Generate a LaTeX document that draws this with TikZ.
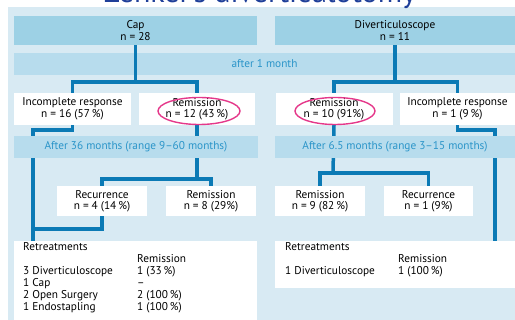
\documentclass[tikz,border=0pt]{standalone}
\usepackage{fontspec}
\setmainfont{PT Sans}
\usetikzlibrary{positioning}
\definecolor{panelbg}{HTML}{D8EAF3}
\definecolor{headbg}{HTML}{9DD1E5}
\definecolor{bandbg}{HTML}{B7DCED}
\definecolor{bandtext}{HTML}{2B95C9}
\definecolor{connblue}{HTML}{0B7AB5}
\definecolor{hilite}{HTML}{E5388A}
\definecolor{titleblue}{HTML}{1F3F99}
\tikzset{
  headbox/.style={fill=headbg, minimum height=29pt, align=center, inner sep=0pt},
  band/.style={fill=bandbg, minimum height=22pt, text=bandtext, inner sep=0pt},
  resbox/.style={fill=white, align=center, inner sep=0pt},
  conn/.style={draw=connblue, line width=3.5pt, line join=miter},
  ring/.style={draw=hilite, line width=1.4pt},
}
\begin{document}
\begin{tikzpicture}[x=1pt, y=-1pt, font=\fontsize{11.3}{11.5}\selectfont]
\useasboundingbox (0,0) rectangle (515,320);
\clip (0,0) rectangle (515,320);
\fill[panelbg] (8,7) rectangle (525,330);
\node[text=titleblue, anchor=base, inner sep=0pt] (title) at (260,3) {\fontsize{30}{32}\selectfont Zenker's diverticulotomy};
% groups
\node[headbox, minimum width=243pt] (capbox) at (135.5,30.5) {Cap\\n = 28};
\node[headbox, minimum width=240pt] (divbox) at (395,30.5) {Diverticuloscope\\n = 11};
\node[band, minimum width=501pt] (band1) at (264.5,64) {after 1 month};
% results after 1 month
\node[resbox, minimum width=117pt, minimum height=32pt] (incL) at (72.5,109) {Incomplete response\\n = 16 (57\,\%)};
\node[resbox, minimum width=116pt, minimum height=32pt] (remL) at (197,109) {Remission\\n = 12 (43\,\%)};
\node[resbox, minimum width=117pt, minimum height=32pt] (remR) at (334,109) {Remission\\n = 10 (91\%)};
\node[resbox, minimum width=115pt, minimum height=32pt] (incR) at (457.5,109) {Incomplete response\\n = 1 (9\,\%)};
% results at follow-up
\node[resbox, minimum width=90pt, minimum height=30pt] (recL) at (102,201) {Recurrence\\n = 4 (14\,\%)};
\node[resbox, minimum width=90pt, minimum height=30pt] (remL2) at (211,201) {Remission\\n = 8 (29\%)};
\node[resbox, minimum width=90pt, minimum height=30pt] (remR2) at (320,201) {Remission\\n = 9 (82\,\%)};
\node[resbox, minimum width=89pt, minimum height=30pt] (recR) at (428.5,201) {Recurrence\\n = 1 (9\%)};
% retreatments
\node[resbox, minimum width=243pt, minimum height=85pt, anchor=north west] (retL) at (14,241) {};
\node[resbox, minimum width=245pt, minimum height=47pt, anchor=north west] (retR) at (275,241) {};
\node[anchor=north west, inner sep=0pt, align=left, font=\fontsize{11.3}{12}\selectfont] (retLtext) at (23,242) {%
\begin{tabular}{@{}p{114pt}@{}l@{}}
Retreatments & \\
 & Remission \\
3 Diverticuloscope & 1 (33\,\%) \\
1 Cap & -- \\
2 Open Surgery & 2 (100\,\%) \\
1 Endostapling & 1 (100\,\%)
\end{tabular}};
\node[anchor=north west, inner sep=0pt, align=left, font=\fontsize{11.3}{12}\selectfont] (retRtext) at (285,242) {%
\begin{tabular}{@{}p{113pt}@{}l@{}}
Retreatments & \\
 & Remission \\
1 Diverticuloscope & 1 (100\,\%)
\end{tabular}};
% connectors
\coordinate (capsplit) at (135.5,82);
\coordinate (divsplit) at (395,82);
\coordinate (lkink) at (33,130);
\coordinate (ljoin) at (33,229);
\coordinate (rkink) at (495,130);
\coordinate (lsplit) at (197,179);
\coordinate (rsplit) at (333,173);
\draw[conn] (capbox.south) -- (capsplit);
\draw[conn] (incL.north) |- (capsplit) -| (remL.north);
\draw[conn] (divbox.south) -- (divsplit);
\draw[conn] (remR.north) |- (divsplit) -| (incR.north);
\draw[conn] (incL.south) |- (lkink) -- (lkink |- retL.north);
\draw[conn] (recL.south) |- (ljoin);
\draw[conn] (incR.south) |- (rkink) -- (rkink |- retR.north);
\draw[conn] (remL.south) -- (lsplit);
\draw[conn] (recL.north) |- (lsplit) -| (remL2.north);
\draw[conn] (remR.south) -- (rsplit);
\draw[conn] (remR2.north) |- (rsplit) -| (recR.north);
% follow-up bands
\node[band, minimum width=244pt] (band2L) at (136,147) {After 36 months (range 9--60 months)};
\node[band, minimum width=240pt] (band2R) at (395,147) {After 6.5 months (range 3--15 months)};
% remission rings
\draw[ring] ([xshift=2pt,yshift=-2pt]remL.center) ellipse [x radius=41pt, y radius=13.5pt];
\draw[ring] ([xshift=1pt,yshift=-2pt]remR.center) ellipse [x radius=40pt, y radius=13.5pt];
\end{tikzpicture}
\end{document}
